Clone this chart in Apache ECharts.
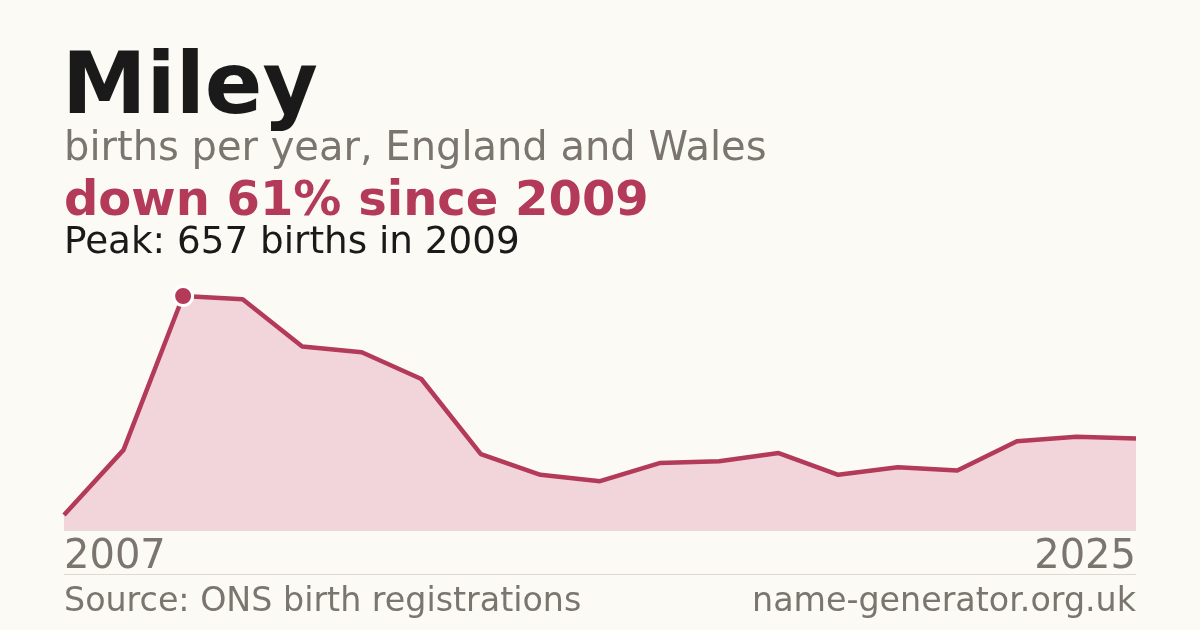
<!DOCTYPE html>
<html>
<head>
<meta charset="utf-8">
<script src="https://cdn.jsdelivr.net/npm/echarts@6/dist/echarts.min.js"></script>
<style>
  html, body { margin: 0; padding: 0; background: #fbfaf5; }
  #main { width: 1200px; height: 630px; }
</style>
</head>
<body>
<div id="main"></div>
<script>
var years = ['2007', '2008', '2009', '2010', '2011', '2012', '2013', '2014', '2015', '2016',
  '2017', '2018', '2019', '2020', '2021', '2022', '2023', '2024', '2025'];
var births = [42, 225, 657, 648, 515, 499, 424, 213, 155, 137,
  188, 193, 216, 155, 176, 167, 249, 262, 257];
var peakIndex = 2;

var font = '"DejaVu Sans", sans-serif';
var chartDom = document.getElementById('main');
var myChart = echarts.init(chartDom);
var option;

option = {
  backgroundColor: '#fbfaf5',
  animation: false,
  title: [
    { text: 'Miley', left: 57, top: 43,
      textStyle: { fontFamily: font, fontSize: 85, fontWeight: 'bold', color: '#1a1a1a' } },
    { text: 'births per year, England and Wales', left: 59, top: 125,
      textStyle: { fontFamily: font, fontSize: 40, fontWeight: 'normal', color: '#7a756e' } },
    { text: 'down 61% since 2009', left: 59, top: 174,
      textStyle: { fontFamily: font, fontSize: 48, fontWeight: 'bold', color: '#b33a58' } },
    { text: 'Peak: 657 births in 2009', left: 59, top: 220,
      textStyle: { fontFamily: font, fontSize: 37.3, fontWeight: 'normal', color: '#1a1a1a' } },
    { text: 'Source: ONS birth registrations', left: 59, top: 581,
      textStyle: { fontFamily: font, fontSize: 33.3, fontWeight: 'normal', color: '#7a756e' } },
    { text: 'name-generator.org.uk', right: 59, top: 581,
      textStyle: { fontFamily: font, fontSize: 33.3, fontWeight: 'normal', color: '#7a756e' } }
  ],
  graphic: [
    { type: 'line', shape: { x1: 64, y1: 574.5, x2: 1136, y2: 574.5 },
      style: { stroke: '#dedad2', lineWidth: 1 } }
  ],
  grid: { left: 64, right: 64, top: 296, bottom: 100 },
  xAxis: {
    type: 'category',
    data: years,
    boundaryGap: false,
    axisLine: { show: true, lineStyle: { color: '#e2ded6', width: 1 } },
    axisTick: { show: false },
    splitLine: { show: false },
    axisLabel: {
      interval: function (i) { return i === 0 || i === years.length - 1; },
      alignMinLabel: 'left',
      alignMaxLabel: 'right',
      margin: 8,
      fontFamily: font,
      fontSize: 40,
      color: '#7a756e'
    }
  },
  yAxis: {
    type: 'value',
    min: 0,
    max: 657,
    show: false,
    splitLine: { show: false }
  },
  series: [
    {
      type: 'line',
      data: births.map(function (v, i) {
        if (i === peakIndex) {
          return {
            value: v,
            symbol: 'circle',
            symbolSize: 19,
            itemStyle: { color: '#b33a58', borderColor: '#ffffff', borderWidth: 3 }
          };
        }
        return v;
      }),
      symbol: 'none',
      showSymbol: true,
      lineStyle: { color: '#b33a58', width: 4.5 },
      areaStyle: { color: '#f2d5da', opacity: 1 },
      z: 3
    }
  ]
};

option && myChart.setOption(option);

window.addEventListener('resize', myChart.resize);
</script>
</body>
</html>
